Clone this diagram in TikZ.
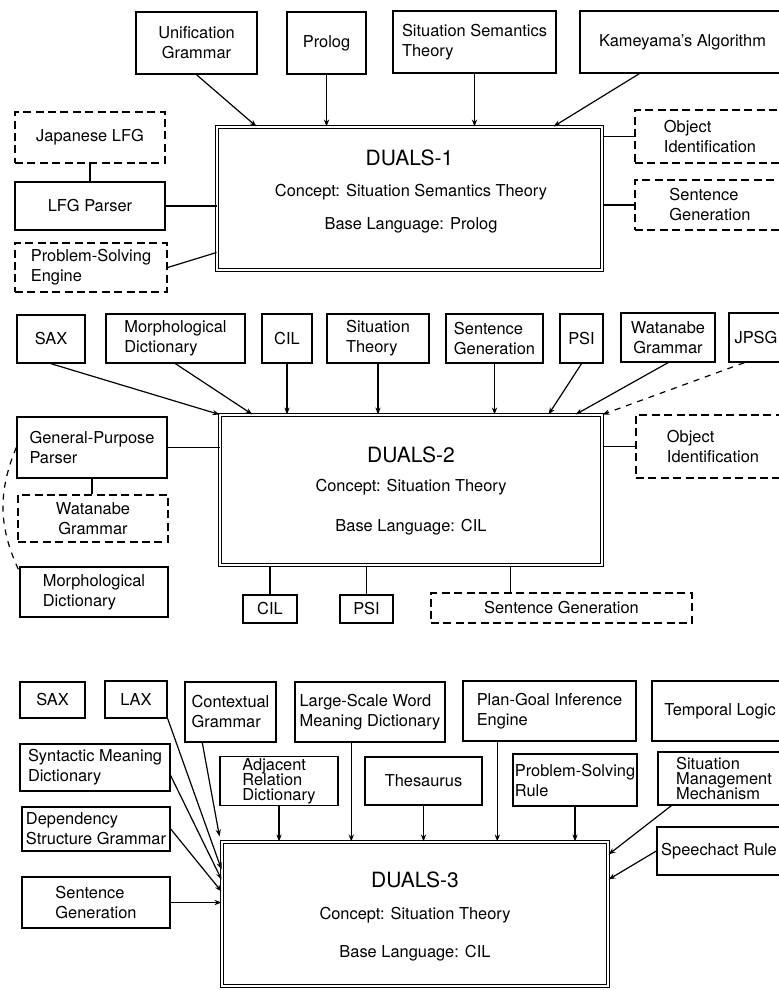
\documentclass[tikz,border=0pt]{standalone}
\usepackage{fontspec}
\setmainfont{TeX Gyre Heros}
\usetikzlibrary{arrows.meta,calc}

\begin{document}
\begin{tikzpicture}[x=0.5pt,y=-0.5pt,
  font=\fontsize{8.2}{10}\selectfont,
  >={Stealth[length=3.5pt,width=2.6pt]},
  box/.style={draw,line width=0.7pt,inner sep=1pt,align=left},
  dbox/.style={box,dash pattern=on 4pt off 2.2pt},
  duals/.style={draw,double,double distance=1.3pt,line width=0.5pt},
  wh/.style 2 args={minimum width=#1*0.5pt,minimum height=#2*0.5pt},
  link/.style={line width=0.6pt},
  title/.style={font=\fontsize{10.5}{12}\selectfont}]
  \useasboundingbox (0,0) rectangle (779,990);

  % DUALS-1
  \node[duals,wh={385}{143}] (d1) at (409.5,198.5) {};
  \node[title] (d1n) at (409.5,158) {DUALS-1};
  \node (d1c) at (411,192) {Concept: Situation Semantics Theory};
  \node (d1b) at (411,225) {Base Language: Prolog};

  \node[box,wh={121}{62},align=center] (ug) at (196.5,43) {Unification\\Grammar};
  \node[box,wh={79}{62}] (prolog) at (326.5,43) {Prolog};
  \node[box,wh={163}{62}] (sst) at (474.5,42) {Situation Semantics\\Theory};
  \node[box,wh={205}{62}] (kam) at (682.5,42) {Kameyama's Algorithm};
  \node[dbox,wh={150}{51}] (jlfg) at (90,137.5) {Japanese LFG};
  \node[box,wh={150}{48}] (lfgp) at (90,206) {LFG Parser};
  \node[dbox,wh={152}{49}] (pse) at (91,267.5) {Problem-Solving\\Engine};
  \node[dbox,wh={150}{53}] (oid1) at (710,136.5) {Object\\Identification};
  \node[dbox,wh={150}{50}] (sg1) at (710,205) {Sentence\\Generation};

  \draw[link,->] (ug.south) -- ($(d1.north west)+(40,0)$);
  \foreach \n in {prolog,sst}
    \draw[link,->] (\n.south) -- (\n.south |- d1.north);
  \draw[link,->] ($(kam.south west)+(60,0)$) -- ($(d1.north east)+(-49,0)$);
  \draw[link] (jlfg) -- (lfgp);
  \draw[link] (lfgp) -- (lfgp -| d1.west);
  \draw[link] (pse.east) -- ($(d1.south west)+(0,-18)$);
  \draw[link] (oid1 -| d1.east) -- (oid1);
  \draw[link] (sg1 -| d1.east) -- (sg1);

  % DUALS-2
  \node[duals,wh={382}{150}] (d2) at (411,490) {};
  \node[title] (d2n) at (411,455) {DUALS-2};
  \node (d2c) at (411,487) {Concept: Situation Theory};
  \node (d2b) at (411,527) {Base Language: CIL};

  \node[box,wh={68}{48}] (sax2) at (51,339) {SAX};
  \node[box,wh={139}{49}] (md2) at (175.5,338.5) {Morphological\\Dictionary};
  \node[box,wh={50}{49}] (cil2) at (287,338.5) {CIL};
  \node[box,wh={102}{49}] (st2) at (378,338.5) {Situation\\Theory};
  \node[box,wh={97}{49}] (sgt2) at (494.5,338.5) {Sentence\\Generation};
  \node[box,wh={43}{49}] (psi2) at (581.5,338.5) {PSI};
  \node[box,wh={94}{49},align=center] (wg2) at (668,337.5) {Watanabe\\Grammar};
  \node[box,wh={54}{49}] (jpsg) at (756,337.5) {JPSG};
  \node[box,wh={150}{61}] (gpp) at (92,447.5) {General-Purpose\\Parser};
  \node[dbox,wh={150}{47},align=center] (wg2b) at (93,518.5) {Watanabe\\Grammar};
  \node[box,wh={148}{50}] (md2b) at (94,592) {Morphological\\Dictionary};
  \node[box,wh={54}{28}] (cil2b) at (270,609) {CIL};
  \node[box,wh={53}{28}] (psi2b) at (366.5,609) {PSI};
  \node[dbox,wh={261}{30}] (sg2b) at (561.5,608) {Sentence Generation};
  \node[dbox,wh={154}{63}] (oid2) at (713,446.5) {Object\\Identification};

  \draw[link,->] (sax2.south) -- (d2.north west);
  \draw[link,->] (md2.south) -- ($(d2.north west)+(33,0)$);
  \foreach \n in {cil2,st2,sgt2}
    \draw[link,->] (\n.south) -- (\n.south |- d2.north);
  \draw[link,->] (psi2.south) -- ($(d2.north east)+(-54,0)$);
  \draw[link,->] (wg2.south) -- ($(d2.north east)+(-27,0)$);
  \draw[link,->,dashed] ($(jpsg.south west)+(16,0)$) -- (d2.north east);
  \draw[link] (gpp) -- (gpp -| d2.west);
  \draw[link] (gpp.south) -- (gpp.south |- wg2b.north);
  \draw[link,dashed] (gpp.west) to[bend right=24] ($(md2b.north west)+(0,5)$);
  \foreach \n in {cil2b,psi2b}
    \draw[link] (\n.north |- d2.south) -- (\n.north);
  \coordinate (sg2bt) at ($(sg2b.north west)+(80,0)$);
  \draw[link] (sg2bt |- d2.south) -- (sg2bt);
  \draw[link] (oid2 -| d2.east) -- (oid2);

  % DUALS-3
  \node[duals,wh={386}{144}] (d3) at (415,914) {};
  \node[title] (d3n) at (415,880) {DUALS-3};
  \node (d3c) at (415,915) {Concept: Situation Theory};
  \node (d3b) at (415,953) {Base Language: CIL};

  \node[box,wh={65}{36}] (sax3) at (52.5,700) {SAX};
  \node[box,wh={62}{37}] (lax) at (136,699.5) {LAX};
  \node[box,wh={91}{60}] (cg) at (230.5,712) {Contextual\\Grammar};
  \node[box,wh={150}{60}] (lsw) at (370,712) {Large-Scale Word\\Meaning Dictionary};
  \node[box,wh={173}{60}] (pgi) at (549.5,711) {Plan-Goal Inference\\Engine};
  \node[box,wh={136}{60}] (tl) at (720,711) {Temporal Logic};
  \node[box,wh={150}{47}] (smd) at (95,767.5) {Syntactic Meaning\\Dictionary};
  \node[box,wh={118}{48}] (ard) at (279,781) {Adjacent\\[-2.5pt]Relation\\[-2.5pt]Dictionary};
  \node[box,wh={117}{48}] (the) at (423.5,781) {Thesaurus};
  \node[box,wh={124}{52}] (psr) at (575,780) {Problem-Solving\\Rule};
  \node[box,wh={132}{53}] (smm) at (724,778.5) {Situation\\[-2.5pt]Management\\[-2.5pt]Mechanism};
  \node[box,wh={148}{44}] (dsg) at (96,829) {Dependency\\Structure Grammar};
  \node[box,wh={124}{48}] (sar) at (719,851) {Speechact Rule};
  \node[box,wh={148}{51}] (sg3) at (96,902.5) {Sentence\\Generation};

  \draw[link,->] (lax.south east) -- ($(d3.north west)+(0,28)$);
  \draw[link,->] ($(smd.south east)+(0,-16)$) -- ($(d3.north west)+(0,38)$);
  \draw[link,->] (dsg.east) -- ($(d3.north west)+(0,50)$);
  \draw[link,->] ($(cg.south west)+(18,0)$) -- ($(d3.north west)+(-2,-5)$);
  \draw[link,->] (sg3) -- (sg3 -| d3.west);
  \foreach \n in {ard,the,psr}
    \draw[link,->] (\n.south) -- (\n.south |- d3.north);
  \coordinate (lswb) at ($(lsw.south west)+(57,0)$);
  \coordinate (pgib) at ($(pgi.south west)+(35,0)$);
  \foreach \n in {lswb,pgib}
    \draw[link,->] (\n) -- (\n |- d3.north);
  \draw[link,->] ($(smm.south west)+(14,0)$) -- ($(d3.north east)+(0,13)$);
  \draw[link,->] (sar.west) -- ($(d3.north east)+(0,38)$);
\end{tikzpicture}
\end{document}
